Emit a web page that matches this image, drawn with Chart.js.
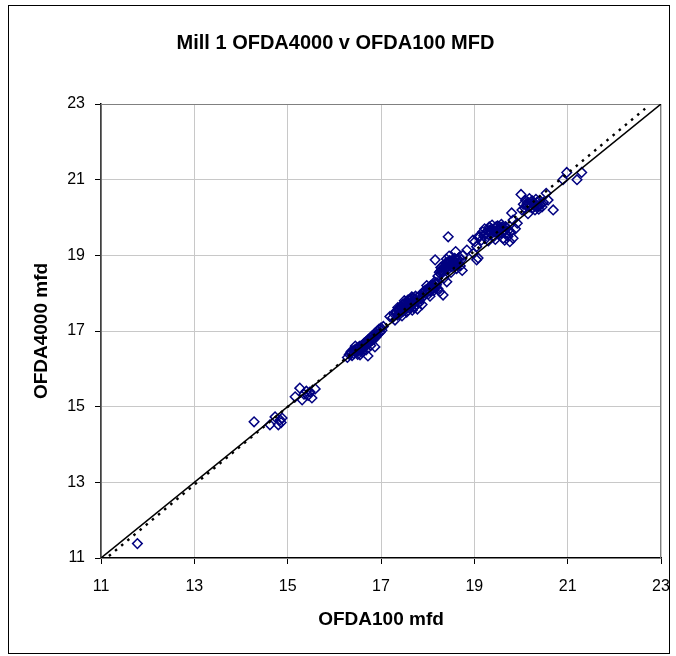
<!DOCTYPE html>
<html>
<head>
<meta charset="utf-8">
<script src="https://cdn.jsdelivr.net/npm/chart.js@4/dist/chart.umd.min.js"></script>
<style>
    html, body { margin: 0; padding: 0; background: #fff; }
    #wrap { width: 676px; height: 656px; }
</style>
</head>
<body>
<div id="wrap"><canvas id="mfdChart" width="676" height="656"></canvas></div>
<script>
// OFDA100 mfd readings (x)
const ofda100 = [
    11.78, 14.28, 14.62, 14.73, 14.80, 14.84, 14.88, 14.86,
    15.16, 15.26, 15.31, 15.35, 15.40, 15.48, 15.52, 15.59, 15.44,
    16.28, 16.32, 16.35, 16.38, 16.40, 16.42, 16.45, 16.47, 16.50, 16.52, 16.55, 16.55, 16.57, 16.60,
    16.62, 16.64, 16.66, 16.68, 16.70, 16.72, 16.73, 16.75, 16.77, 16.78, 16.80, 16.82, 16.84, 16.86,
    16.87, 16.88, 16.90, 16.92, 16.94, 16.96, 16.98, 17.00, 17.02, 17.05, 16.60, 16.68, 16.45, 16.50,
    16.36, 16.44, 16.53, 16.59, 16.65, 16.74, 16.81, 16.89,
    17.19, 17.25, 17.28, 17.30, 17.32, 17.35, 17.38, 17.40, 17.42, 17.44, 17.46, 17.48, 17.50, 17.52,
    17.54, 17.55, 17.56, 17.58, 17.60, 17.62, 17.63, 17.65, 17.67, 17.68, 17.70, 17.72, 17.74, 17.76,
    17.78, 17.80, 17.82, 17.84, 17.86, 17.88, 17.45, 17.58, 17.70, 17.36, 17.50, 17.66,
    17.33, 17.37, 17.41, 17.43, 17.47, 17.49, 17.53, 17.57, 17.61, 17.64, 17.69, 17.73, 17.77, 17.81,
    17.90, 17.93, 17.95, 17.97, 18.00, 18.02, 18.04, 18.06, 18.08, 18.10, 18.12, 18.14, 18.16, 18.18,
    18.20, 18.22, 18.26, 18.05, 17.98, 18.15, 17.92, 17.99, 18.03, 18.07, 18.11, 18.19,
    18.16, 18.22, 18.25, 18.28, 18.30, 18.32, 18.33, 18.34, 18.36, 18.38, 18.40, 18.41, 18.42, 18.44,
    18.44, 18.46, 18.46, 18.48, 18.50, 18.52, 18.54, 18.56, 18.58, 18.60, 18.60, 18.62, 18.64, 18.66,
    18.68, 18.70, 18.72, 18.74, 18.35, 18.50, 18.28, 18.40,
    18.27, 18.31, 18.37, 18.39, 18.43, 18.47, 18.51, 18.55, 18.59, 18.63,
    18.76, 18.84, 18.97, 19.05, 19.08, 19.05, 18.98, 19.01, 19.08,
    19.12, 19.15, 19.18, 19.20, 19.22, 19.25, 19.28, 19.30, 19.32, 19.35, 19.38, 19.40, 19.42, 19.45,
    19.48, 19.50, 19.52, 19.55, 19.58, 19.60, 19.62, 19.65, 19.68, 19.70, 19.72, 19.76, 19.78, 19.83,
    19.80, 19.83, 19.88, 19.92, 19.30, 19.45, 19.58, 19.65,
    19.24, 19.33, 19.37, 19.43, 19.47, 19.53, 19.57, 19.63, 19.67, 19.73,
    20.00, 20.02, 20.05, 20.08, 20.10, 20.12, 20.15, 20.18, 20.20, 20.22, 20.25, 20.28, 20.30, 20.32,
    20.35, 20.38, 20.42, 20.45, 20.48, 20.54, 20.58, 20.69, 20.15, 20.40,
    20.13, 20.19, 20.24, 20.29, 20.34, 20.39,
    20.90, 20.98, 21.20, 21.30
];

// OFDA4000 mfd readings (y), same order
const ofda4000 = [
    11.38, 14.60, 14.52, 14.73, 14.52, 14.65, 14.70, 14.58,
    15.26, 15.49, 15.18, 15.33, 15.41, 15.39, 15.23, 15.47, 15.30,
    16.30, 16.38, 16.42, 16.35, 16.48, 16.40, 16.52, 16.44, 16.55, 16.47, 16.60, 16.37, 16.50, 16.62,
    16.55, 16.68, 16.58, 16.72, 16.64, 16.34, 16.78, 16.70, 16.82, 16.62, 16.86, 16.76, 16.90, 16.80,
    16.58, 16.95, 16.85, 17.00, 16.92, 17.05, 16.96, 17.08, 17.02, 17.12, 16.45, 16.50, 16.60, 16.38,
    16.46, 16.46, 16.58, 16.56, 16.66, 16.74, 16.80, 16.90,
    17.38, 17.35, 17.45, 17.29, 17.52, 17.42, 17.58, 17.50, 17.65, 17.55, 17.70, 17.60, 17.72, 17.62,
    17.78, 17.50, 17.68, 17.82, 17.72, 17.60, 17.85, 17.75, 17.55, 17.88, 17.78, 17.65, 17.92, 17.80,
    17.58, 17.90, 17.75, 17.95, 17.85, 17.70, 17.40, 17.55, 17.62, 17.62, 17.80, 17.90,
    17.48, 17.55, 17.45, 17.60, 17.52, 17.66, 17.70, 17.62, 17.80, 17.68, 17.72, 17.85, 17.70, 17.82,
    18.00, 17.95, 18.08, 18.02, 18.12, 17.98, 18.15, 18.05, 18.18, 18.10, 18.22, 18.08, 18.25, 18.15,
    18.28, 18.12, 18.04, 17.92, 18.20, 18.30, 18.05, 18.10, 18.06, 18.20, 18.14, 18.22,
    18.88, 18.45, 18.55, 18.50, 18.62, 18.55, 17.95, 18.68, 18.60, 18.72, 18.65, 18.30, 18.78, 18.70,
    19.49, 18.98, 18.82, 18.75, 18.85, 18.70, 18.88, 18.78, 18.92, 19.10, 18.82, 18.65, 18.90, 18.80,
    18.95, 18.72, 18.88, 18.60, 18.40, 18.55, 18.68, 18.90,
    18.58, 18.70, 18.65, 18.80, 18.62, 18.86, 18.78, 18.84, 18.74, 18.86,
    19.00, 19.14, 19.40, 19.23, 18.93, 18.88, 19.05, 19.36, 19.49,
    19.50, 19.40, 19.62, 19.52, 19.70, 19.45, 19.65, 19.55, 19.75, 19.60, 19.80, 19.68, 19.50, 19.72,
    19.62, 19.78, 19.55, 19.70, 19.60, 19.75, 19.45, 19.68, 19.58, 19.72, 19.50, 19.36, 19.62, 19.45,
    20.12, 19.93, 19.70, 19.85, 19.38, 19.42, 19.82, 19.40,
    19.58, 19.66, 19.70, 19.62, 19.76, 19.66, 19.74, 19.62, 19.76, 19.66,
    20.61, 20.20, 20.35, 20.25, 20.45, 20.30, 20.40, 20.50, 20.32, 20.42, 20.25, 20.38, 20.20, 20.48,
    20.30, 20.22, 20.35, 20.28, 20.40, 20.64, 20.46, 20.20, 20.10, 20.45,
    20.36, 20.28, 20.44, 20.30, 20.40, 20.30,
    21.00, 21.19, 21.00, 21.19
];

// Axis range / ticks (both axes)
const axisMin = 11;
const axisMax = 23;
const axisStep = 2;

// 1:1 line ends and the fitted trend line (dotted)
const equalityEnds = [11, 23];
const trendSlope = 1.029;
const trendIntercept = -0.44;
const trendEnds = [11.17, 22.66];

const points = ofda100.map((x, i) => ({ x: x, y: ofda4000[i] }));
const equalityLine = equalityEnds.map(v => ({ x: v, y: v }));
const trendLine = trendEnds.map(v => ({ x: v, y: trendSlope * v + trendIntercept }));

// Outer frame + grey plot frame like the Excel chart
const framePlugin = {
    id: 'frame',
    beforeDraw(chart) {
        const ctx = chart.ctx;
        ctx.save();
        ctx.fillStyle = '#ffffff';
        ctx.fillRect(0, 0, chart.width, chart.height);
        ctx.strokeStyle = '#000000';
        ctx.lineWidth = 1;
        ctx.strokeRect(8.5, 5.5, 661, 648);
        ctx.restore();
    },
    beforeDatasetsDraw(chart) {
        const a = chart.chartArea;
        const ctx = chart.ctx;
        ctx.save();
        ctx.strokeStyle = '#808080';
        ctx.lineWidth = 1;
        ctx.strokeRect(a.left, a.top + 0.5, a.right - a.left - 0.5, a.bottom - a.top);
        ctx.restore();
    }
};

const fontFamily = "'Liberation Sans', Arial, sans-serif";

new Chart(document.getElementById('mfdChart').getContext('2d'), {
    type: 'scatter',
    data: {
        datasets: [{
            label: 'MFD',
            data: points,
            pointStyle: 'rectRot',
            pointRadius: 4.8,
            pointBorderWidth: 1.5,
            borderColor: '#000080',
            backgroundColor: 'rgba(0,0,0,0)',
            order: 3
        }, {
            label: '1:1',
            data: equalityLine,
            showLine: true,
            borderColor: '#000000',
            borderWidth: 1.5,
            pointRadius: 0,
            order: 1
        }, {
            label: 'Trend',
            data: trendLine,
            showLine: true,
            borderColor: '#000000',
            borderWidth: 2.4,
            borderDash: [2.5, 5.5],
            pointRadius: 0,
            order: 2
        }]
    },
    options: {
        responsive: false,
        animation: false,
        layout: {
            padding: { left: 10, right: 15, top: 0, bottom: 0 }
        },
        plugins: {
            legend: { display: false },
            tooltip: { enabled: false },
            title: {
                display: true,
                text: 'Mill 1 OFDA4000 v OFDA100 MFD',
                color: '#000000',
                font: { family: fontFamily, size: 20, weight: 'bold' },
                padding: { top: 31, bottom: 49 }
            }
        },
        scales: {
            x: {
                type: 'linear',
                min: axisMin,
                max: axisMax,
                ticks: {
                    stepSize: axisStep,
                    color: '#000000',
                    padding: 13,
                    font: { family: fontFamily, size: 16 }
                },
                grid: {
                    color: '#c8c8c8',
                    tickColor: '#000000',
                    tickLength: 6
                },
                border: { display: true, color: '#000000', width: 1.5 },
                title: {
                    display: true,
                    text: 'OFDA100 mfd',
                    color: '#000000',
                    font: { family: fontFamily, size: 19, weight: 'bold' },
                    padding: { top: 0, bottom: 24.6 }
                },
                afterFit(scale) {
                    scale.height = 98;
                    scale.paddingLeft = 0;
                    scale.paddingRight = 0;
                }
            },
            y: {
                type: 'linear',
                min: axisMin,
                max: axisMax,
                ticks: {
                    stepSize: axisStep,
                    color: '#000000',
                    padding: 10,
                    font: { family: fontFamily, size: 16 }
                },
                grid: {
                    color: '#c8c8c8',
                    tickColor: '#000000',
                    tickLength: 6
                },
                border: { display: true, color: '#000000', width: 1.5 },
                title: {
                    display: true,
                    text: 'OFDA4000 mfd',
                    color: '#000000',
                    font: { family: fontFamily, size: 19, weight: 'bold' },
                    padding: { top: 20.6, bottom: 0 }
                },
                afterFit(scale) { scale.width = 91; }
            }
        }
    },
    plugins: [framePlugin]
});
</script>
</body>
</html>
